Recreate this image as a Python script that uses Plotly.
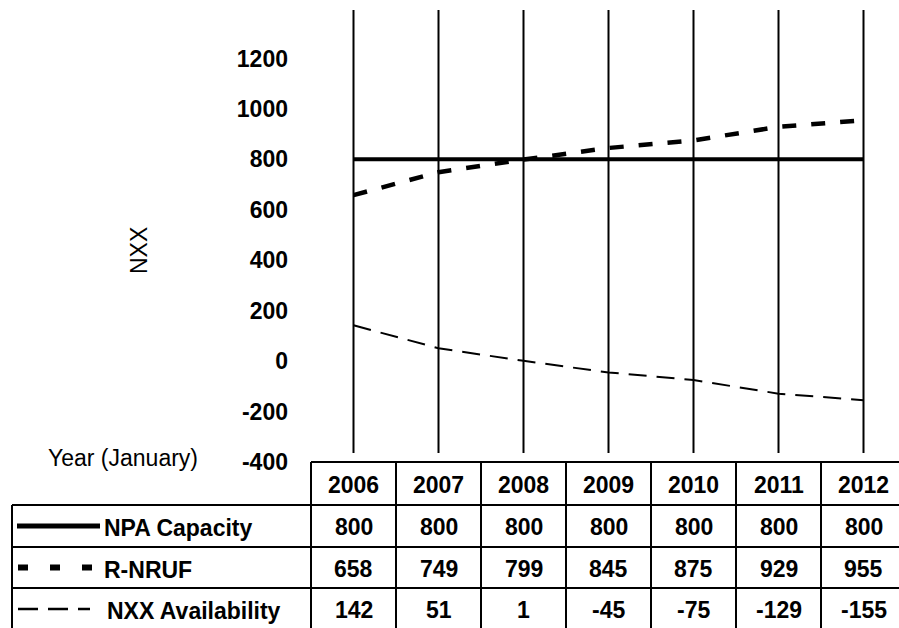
import plotly.graph_objects as go

years = [2006, 2007, 2008, 2009, 2010, 2011, 2012]
npa_capacity = [800, 800, 800, 800, 800, 800, 800]
r_nruf = [658, 749, 799, 845, 875, 929, 955]
nxx_avail = [142, 51, 1, -45, -75, -129, -155]
y_ticks = [-400, -200, 0, 200, 400, 600, 800, 1000, 1200]
series_names = ["NPA Capacity", "R-NRUF", "NXX Availability"]

W, H = 899, 628
L, R, T, B = 311, 0, 8, 166
PW = W - L - R
PH = H - T - B
COLW = 85.0
XMIN = 2005.5
XMAX = XMIN + PW / COLW
FONT = "Liberation Sans, Arial, sans-serif"
FS = 23


def px_x(px):
    return (px - L) / PW


def px_y(py):
    return (H - B - py) / PH


def year_px(yr):
    return L + (yr - XMIN) * COLW


fig = go.Figure()

styles = [
    dict(color="black", width=4, dash="solid"),
    dict(color="black", width=4.5, dash="14px,15px"),
    dict(color="black", width=2, dash="18px,10px"),
]
for name, vals, st in zip(series_names, [npa_capacity, r_nruf, nxx_avail], styles):
    fig.add_trace(go.Scatter(x=years, y=vals, mode="lines", name=name,
                             line=st, showlegend=False, cliponaxis=False))

shapes = []
# vertical category lines
for yr in years:
    shapes.append(dict(type="line", xref="x", yref="paper", x0=yr, x1=yr,
                       y0=px_y(453), y1=px_y(10), line=dict(color="black", width=2)))

# data table
line_k = dict(color="black", width=2)
table_right = year_px(years[-1] + 0.5)
table_left_cols = year_px(years[0] - 0.5)
row_tops = [462, 505, 547, 588, 630]
shapes.append(dict(type="line", xref="paper", yref="paper", x0=px_x(table_left_cols), x1=px_x(table_right),
                   y0=px_y(row_tops[0]), y1=px_y(row_tops[0]), line=line_k))
for ry in row_tops[1:]:
    shapes.append(dict(type="line", xref="paper", yref="paper", x0=px_x(12), x1=px_x(table_right),
                       y0=px_y(ry), y1=px_y(ry), line=line_k))
shapes.append(dict(type="line", xref="paper", yref="paper", x0=px_x(12), x1=px_x(12),
                   y0=px_y(row_tops[1]), y1=px_y(row_tops[-1]), line=line_k))
for k in range(len(years) + 1):
    xb = year_px(years[0] - 0.5 + k)
    shapes.append(dict(type="line", xref="paper", yref="paper", x0=px_x(xb), x1=px_x(xb),
                       y0=px_y(row_tops[0]), y1=px_y(row_tops[-1]), line=line_k))

# legend keys inside table
key_styles = [
    dict(color="black", width=5, dash="solid"),
    dict(color="black", width=6, dash="10px,22px"),
    dict(color="black", width=2.5, dash="20px,10px"),
]
key_ends = [(17, 100), (18, 92), (18, 90)]
row_centers = [(row_tops[i] + row_tops[i + 1]) / 2 for i in range(1, 4)]
for st, (a, b), yc in zip(key_styles, key_ends, row_centers):
    shapes.append(dict(type="line", xref="paper", yref="paper", x0=px_x(a), x1=px_x(b),
                       y0=px_y(yc), y1=px_y(yc), line=st))

ann = []
bold = dict(family=FONT, size=FS, color="black", weight="bold")
hdr_c = (row_tops[0] + row_tops[1]) / 2
for yr in years:
    ann.append(dict(xref="paper", yref="paper", x=px_x(year_px(yr)), y=px_y(hdr_c + 1),
                    text=str(yr), showarrow=False, font=bold, xanchor="center", yanchor="middle"))
label_x = [102, 102, 105]
for name, vals, yc, lx in zip(series_names, [npa_capacity, r_nruf, nxx_avail], row_centers, label_x):
    ann.append(dict(xref="paper", yref="paper", x=px_x(lx), y=px_y(yc + 2), text=name,
                    showarrow=False, font=bold, xanchor="left", yanchor="middle"))
    for yr, v in zip(years, vals):
        ann.append(dict(xref="paper", yref="paper", x=px_x(year_px(yr)), y=px_y(yc + 1),
                        text=str(v), showarrow=False, font=bold, xanchor="center", yanchor="middle"))

ann.append(dict(xref="paper", yref="paper", x=px_x(46), y=px_y(458), text="Year (January)",
                showarrow=False, font=dict(family=FONT, size=FS, color="black"),
                xanchor="left", yanchor="middle"))
ann.append(dict(xref="paper", yref="paper", x=px_x(139), y=px_y(251), text="NXX",
                showarrow=False, textangle=-90, font=dict(family=FONT, size=FS, color="black"),
                xanchor="center", yanchor="middle"))

fig.update_layout(
    width=W, height=H,
    margin=dict(l=L, r=R, t=T, b=B, pad=0),
    paper_bgcolor="white", plot_bgcolor="white",
    shapes=shapes, annotations=ann,
    showlegend=False,
    hovermode=False,
    xaxis=dict(range=[XMIN, XMAX], showgrid=False, zeroline=False, showline=False,
               showticklabels=False, ticks=""),
    yaxis=dict(range=[-400, 1400], tickvals=y_ticks, ticktext=[str(v) for v in y_ticks],
               showgrid=False, zeroline=False, showline=False, ticks="",
               ticklabelstandoff=22,
               tickfont=dict(family=FONT, size=FS, color="black", weight="bold")),
)

fig.write_html("out.html", config={"displayModeBar": False},
               post_script="document.body.style.margin='0';document.body.style.overflow='hidden';")
